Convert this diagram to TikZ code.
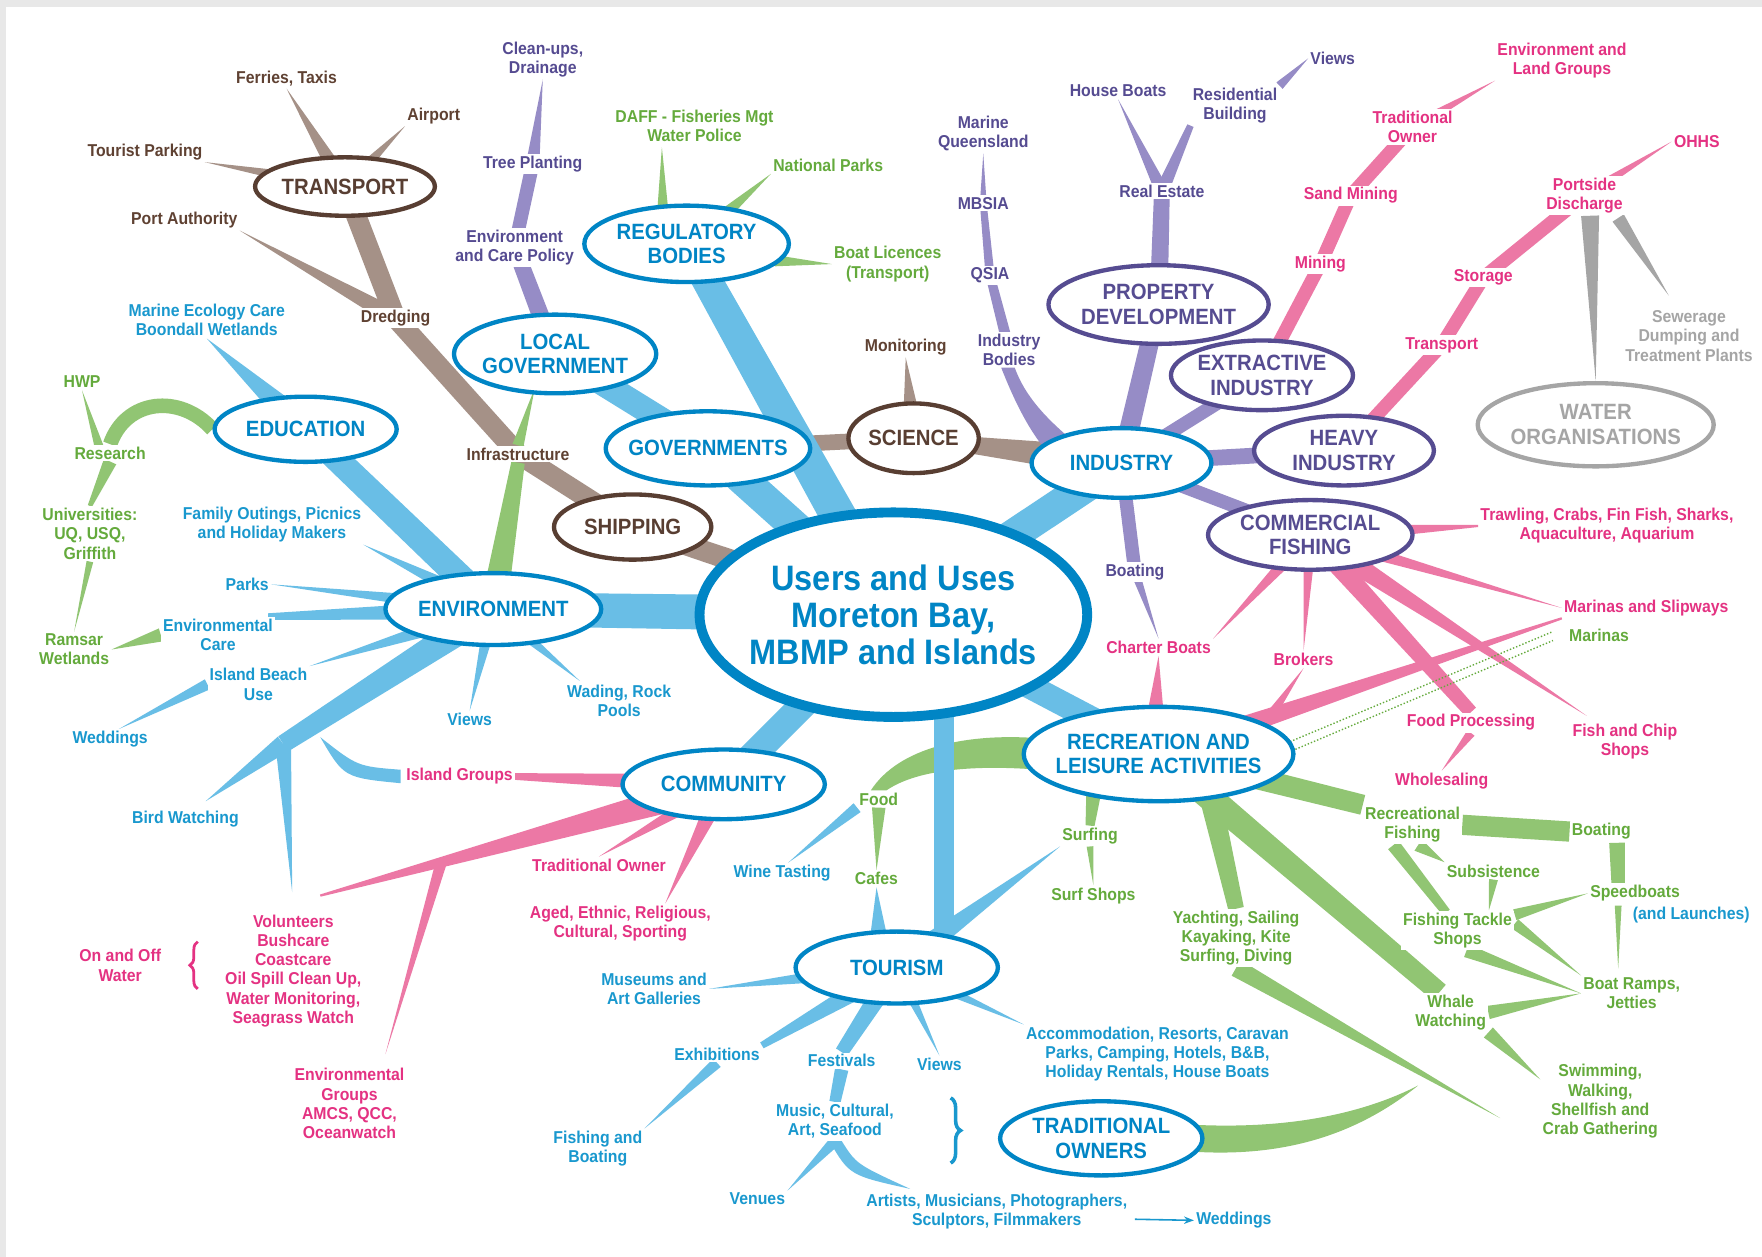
\documentclass[tikz,border=0pt]{standalone}
\usepackage{fontspec}
\setmainfont{Liberation Sans}[FakeStretch=0.92]
\usetikzlibrary{positioning,arrows.meta,calc,backgrounds,shapes.geometric,decorations.pathreplacing}
\definecolor{mbBlue}{RGB}{0,133,197}
\definecolor{mbCyan}{RGB}{25,152,206}
\definecolor{mbSky}{RGB}{105,190,230}
\definecolor{mbBrown}{RGB}{88,62,50}
\definecolor{mbUmber}{RGB}{95,65,50}
\definecolor{mbTaupe}{RGB}{165,145,135}
\definecolor{mbPurple}{RGB}{86,76,145}
\definecolor{mbPlum}{RGB}{85,75,145}
\definecolor{mbLilac}{RGB}{150,140,198}
\definecolor{mbPink}{RGB}{236,120,165}
\definecolor{mbRose}{RGB}{228,50,130}
\definecolor{mbGreen}{RGB}{145,197,115}
\definecolor{mbLeaf}{RGB}{100,170,60}
\definecolor{mbGray}{RGB}{165,165,165}
\definecolor{mbFrame}{RGB}{232,232,232}
\newcommand{\lblfont}{\bfseries\fontsize{8.7}{9.7}\selectfont}
\newcommand{\hubfont}{\bfseries\fontsize{11.2}{12.5}\selectfont}
\newcommand{\corefont}{\bfseries\fontsize{17.9}{18.8}\selectfont}
% tapered branch: from, to, half width at start, half width at end (px)
\newcommand{\twig}[5][mbSky]{\fill[#1] ($(#2)!#4*0.02cm!90:(#3)$) -- ($(#3)!#5*0.02cm!-90:(#2)$) -- ($(#3)!#5*0.02cm!90:(#2)$) -- ($(#2)!#4*0.02cm!-90:(#3)$) -- cycle;}
\begin{document}
\begin{tikzpicture}[x=0.02cm, y=-0.02cm,
  hub/.style n args={3}{ellipse, draw=#1, text=#1, line width=2.2pt, fill=white, font=\hubfont, align=center, inner xsep=-4cm, inner ysep=-4cm, minimum width=#2*0.02cm, minimum height=#3*0.02cm},
  lbl/.style={font=\lblfont, align=center, text=#1, fill=white, inner sep=1pt}]
  \begin{pgfonlayer}{background}
    \fill[mbFrame] (0,0) rectangle (1568,1118.6);
    \fill[white] (5,6) rectangle (1568,1118.6);
  \end{pgfonlayer}

  % Hubs
  \node[hub={mbBrown}{160}{52}] (tra) at (307,166) {TRANSPORT};
  \node[hub={mbBlue}{182}{68}] (reg) at (611,217) {REGULATORY\\BODIES};
  \node[hub={mbBlue}{180}{70}] (loc) at (494,315) {LOCAL\\GOVERNMENT};
  \node[hub={mbBlue}{162}{58}] (edu) at (272,382) {EDUCATION};
  \node[hub={mbBlue}{182}{66}] (gov) at (630,399) {GOVERNMENTS};
  \node[hub={mbBrown}{116}{62}] (sci) at (813,390) {SCIENCE};
  \node[hub={mbBrown}{140}{58}] (shp) at (563,469) {SHIPPING};
  \node[hub={mbBlue}{192}{64}] (env) at (439,542) {ENVIRONMENT};
  \node[hub={mbBlue}{345}{182}, line width=5pt, font=\corefont] (core) at (795,547) {Users and Uses\\Moreton Bay,\\MBMP and Islands};
  \node[hub={mbPurple}{196}{70}] (pro) at (1031,271) {PROPERTY\\DEVELOPMENT};
  \node[hub={mbPurple}{162}{62}] (ext) at (1123,334) {EXTRACTIVE\\INDUSTRY};
  \node[hub={mbBlue}{160}{62}] (ind) at (998,412) {INDUSTRY};
  \node[hub={mbPurple}{160}{62}] (hvy) at (1196,401) {HEAVY\\INDUSTRY};
  \node[hub={mbGray}{210}{74}] (wat) at (1420,378) {WATER\\ORGANISATIONS};
  \node[hub={mbPurple}{182}{62}] (com) at (1166,476) {COMMERCIAL\\FISHING};
  \node[hub={mbBlue}{240}{84}] (rec) at (1031,671) {RECREATION AND\\LEISURE ACTIVITIES};
  \node[hub={mbBlue}{180}{62}] (cmm) at (644,698) {COMMUNITY};
  \node[hub={mbBlue}{180}{64}] (tou) at (798,861) {TOURISM};
  \node[hub={mbBlue}{180}{66}] (own) at (980,1013) {TRADITIONAL\\OWNERS};

  % Transport and science labels
  \node[lbl=mbUmber] (ferry) at (255,70) {Ferries, Taxis};
  \node[lbl=mbUmber] (airp) at (386,103) {Airport};
  \node[lbl=mbUmber] (tpark) at (129,135) {Tourist Parking};
  \node[lbl=mbUmber] (port) at (164,196) {Port Authority};
  \node[lbl=mbUmber] (dredge) at (352,283) {Dredging};
  \node[lbl=mbUmber] (infra) at (461,404) {Infrastructure};
  \node[lbl=mbUmber] (monit) at (806,309) {Monitoring};

  % Purple labels
  \node[lbl=mbPlum] (clean) at (483,53) {Clean-ups,\\Drainage};
  \node[lbl=mbPlum] (tree) at (474,146) {Tree Planting};
  \node[lbl=mbPlum] (ecp) at (458,220) {Environment\\and Care Policy};
  \node[lbl=mbPlum] (mq) at (875,119) {Marine\\Queensland};
  \node[lbl=mbPlum] (mbsia) at (875,181) {MBSIA};
  \node[lbl=mbPlum] (qsia) at (881,245) {QSIA};
  \node[lbl=mbPlum] (ibod) at (898,311) {Industry\\Bodies};
  \node[lbl=mbPlum] (hboat) at (995,81) {House Boats};
  \node[lbl=mbPlum] (resi) at (1099,94) {Residential\\Building};
  \node[lbl=mbPlum] (pviews) at (1186,52) {Views};
  \node[lbl=mbPlum] (reale) at (1034,170) {Real Estate};
  \node[lbl=mbPlum] (iboat) at (1010,509) {Boating};

  % Green labels
  \node[lbl=mbLeaf] (daff) at (618,112) {DAFF - Fisheries Mgt\\Water Police};
  \node[lbl=mbLeaf] (npark) at (737,147) {National Parks};
  \node[lbl=mbLeaf] (blic) at (790,235) {Boat Licences\\(Transport)};
  \node[lbl=mbLeaf] (hwp) at (73,340) {HWP};
  \node[lbl=mbLeaf] (resr) at (98,403) {Research};
  \node[lbl=mbLeaf] (uni) at (80,475) {Universities:\\UQ, USQ,\\Griffith};
  \node[lbl=mbLeaf] (ramsar) at (66,578) {Ramsar\\Wetlands};
  \node[lbl=mbLeaf] (marinas) at (1423,565) {Marinas};
  \node[lbl=mbLeaf] (food) at (782,711) {Food};
  \node[lbl=mbLeaf] (cafes) at (780,782) {Cafes};
  \node[lbl=mbLeaf] (surf) at (970,744) {Surfing};
  \node[lbl=mbLeaf] (surfsh) at (973,797) {Surf Shops};
  \node[lbl=mbLeaf] (yacht) at (1100,835) {Yachting, Sailing\\Kayaking, Kite\\Surfing, Diving};
  \node[lbl=mbLeaf] (recf) at (1257,734) {Recreational\\Fishing};
  \node[lbl=mbLeaf] (rboat) at (1425,740) {Boating};
  \node[lbl=mbLeaf] (subs) at (1329,775) {Subsistence};
  \node[lbl=mbLeaf] (speed) at (1455,795) {Speedboats};
  \node[lbl=mbLeaf] (tackle) at (1297,828) {Fishing Tackle\\Shops};
  \node[lbl=mbLeaf] (ramps) at (1452,884) {Boat Ramps,\\Jetties};
  \node[lbl=mbLeaf] (whale) at (1291,901) {Whale\\Watching};
  \node[lbl=mbLeaf] (swim) at (1424,980) {Swimming,\\Walking,\\Shellfish and\\Crab Gathering};

  % Blue labels
  \node[lbl=mbCyan] (mec) at (184,285) {Marine Ecology Care\\Boondall Wetlands};
  \node[lbl=mbCyan] (fam) at (242,467) {Family Outings, Picnics\\and Holiday Makers};
  \node[lbl=mbCyan] (parks) at (220,520) {Parks};
  \node[lbl=mbCyan] (ecare) at (194,565) {Environmental\\Care};
  \node[lbl=mbCyan] (ibu) at (230,609) {Island Beach\\Use};
  \node[lbl=mbCyan] (wedd) at (98,658) {Weddings};
  \node[lbl=mbCyan] (eviews) at (418,640) {Views};
  \node[lbl=mbCyan] (wade) at (551,624) {Wading, Rock\\Pools};
  \node[lbl=mbCyan] (bird) at (165,729) {Bird Watching};
  \node[lbl=mbCyan] (wine) at (696,777) {Wine Tasting};
  \node[lbl=mbCyan] (muse) at (582,880) {Museums and\\Art Galleries};
  \node[lbl=mbCyan] (exhib) at (638,938) {Exhibitions};
  \node[lbl=mbCyan] (fest) at (749,944) {Festivals};
  \node[lbl=mbCyan] (tviews) at (836,947) {Views};
  \node[lbl=mbCyan] (music) at (743,998) {Music, Cultural,\\Art, Seafood};
  \node[lbl=mbCyan] (fishb) at (532,1022) {Fishing and\\Boating};
  \node[lbl=mbCyan] (venue) at (674,1067) {Venues};
  \node[lbl=mbCyan] (artist) at (887,1078) {Artists, Musicians, Photographers,\\Sculptors, Filmmakers};
  \node[lbl=mbCyan] (twedd) at (1098,1086) {Weddings};
  \node[lbl=mbCyan] (accom) at (1030,938) {Accommodation, Resorts, Caravan\\Parks, Camping, Hotels, B\&B,\\Holiday Rentals, House Boats};
  \node[lbl=mbCyan] (launch) at (1505,814) {(and Launches)};

  % Pink labels
  \node[lbl=mbRose] (elg) at (1390,54) {Environment and\\Land Groups};
  \node[lbl=mbRose] (tro) at (1257,113) {Traditional\\Owner};
  \node[lbl=mbRose] (sand) at (1202,174) {Sand Mining};
  \node[lbl=mbRose] (mining) at (1175,235) {Mining};
  \node[lbl=mbRose] (ohhs) at (1510,126) {OHHS};
  \node[lbl=mbRose] (pdis) at (1410,174) {Portside\\Discharge};
  \node[lbl=mbRose] (stor) at (1320,247) {Storage};
  \node[lbl=mbRose] (trans) at (1283,307) {Transport};
  \node[lbl=mbRose] (trawl) at (1430,468) {Trawling, Crabs, Fin Fish, Sharks,\\Aquaculture, Aquarium};
  \node[lbl=mbRose] (mslip) at (1465,541) {Marinas and Slipways};
  \node[lbl=mbRose] (charter) at (1031,576) {Charter Boats};
  \node[lbl=mbRose] (brok) at (1160,587) {Brokers};
  \node[lbl=mbRose] (fproc) at (1309,643) {Food Processing};
  \node[lbl=mbRose] (fchip) at (1446,660) {Fish and Chip\\Shops};
  \node[lbl=mbRose] (whole) at (1283,695) {Wholesaling};
  \node[lbl=mbRose] (igrp) at (409,691) {Island Groups};
  \node[lbl=mbRose] (ctro) at (533,770) {Traditional Owner};
  \node[lbl=mbRose] (aged) at (552,822) {Aged, Ethnic, Religious,\\Cultural, Sporting};
  \node[lbl=mbRose] (volun) at (261,864) {Volunteers\\Bushcare\\Coastcare\\Oil Spill Clean Up,\\Water Monitoring,\\Seagrass Watch};
  \node[lbl=mbRose] (onoff) at (107,859) {On and Off\\Water};
  \node[lbl=mbRose] (egrp) at (311,982) {Environmental\\Groups\\AMCS, QCC,\\Oceanwatch};
  \node[lbl=mbGray] (sewer) at (1503,299) {Sewerage\\Dumping and\\Treatment Plants};

  % Braces and arrow
  \draw[mbRose, line width=1.4pt, decorate, decoration={brace, amplitude=4pt}] (176,880) -- (176,838);
  \draw[mbCyan, line width=1.8pt, decorate, decoration={brace, amplitude=5pt}] (846,977) -- (846,1035);
  \coordinate (awst) at (1010,1085);
  \draw[-{Stealth[length=5pt]}, mbCyan, line width=0.8pt] (awst) -- (twedd.west);

  % Free ends and forks
  \coordinate (vtip) at (285,797);
  \coordinate (btvt) at (260,794);
  \coordinate (bfork) at (252,662);
  \coordinate (btip) at (183,713);
  \coordinate (etip) at (343,938);
  \coordinate (efork) at ($(cmm)!0.7!(vtip)$);
  \coordinate (agtip) at (592,804);
  \coordinate (igtip) at (285,656);
  \coordinate (wdtip) at (516,606);
  \coordinate (tvtop) at (840,600);
  \coordinate (tvbot) at (840,845);
  \coordinate (cfbot) at (782,836);
  \coordinate (artip) at (810,1058);
  \coordinate (fchtip) at (1412,637);
  \coordinate (ytip) at (1335,995);
  \coordinate (otip) at (1262,966);
  \coordinate (rcn) at (1028,640);
  \coordinate (rbk) at (1120,652);
  \coordinate (recs) at (975,690);
  \coordinate (recy) at (1075,700);
  \coordinate (rbs) at (1439,750);
  \coordinate (spn) at (1440,786);
  \coordinate (sps) at (1440,806);
  \coordinate (rmn) at (1440,862);
  \coordinate (rfs) at (1262,752);
  \coordinate (rfw) at (1240,752);
  \coordinate (tkn) at (1287,812);
  \coordinate (sbt) at (1325,810);
  \coordinate (tke1) at (1348,814);
  \coordinate (tke2) at (1348,822);
  \coordinate (tks) at (1305,846);
  \coordinate (pdg) at (1415,192);
  \coordinate (pds) at (1440,194);
  \coordinate (swn) at (1485,263);
  \coordinate (rgd) at (590,200);
  \coordinate (dfs) at (589,131);
  \coordinate (rgn) at (640,195);
  \coordinate (rgb) at (690,232);
  \coordinate (lgs) at (476,345);
  \coordinate (resn) at (88,397);
  \coordinate (ibA) at (958,395);
  \coordinate (ibB) at (935,405);
  \coordinate (dtA) at (1148,660);
  \coordinate (dtB) at (1382,562);
  \coordinate (dtC) at (1150,668);
  \coordinate (dtD) at (1382,570);

  \begin{pgfonlayer}{background}
    % Transport and shipping
    \twig[mbTaupe]{tra}{ferry.south}{8}{0}
    \twig[mbTaupe]{tra}{airp.south west}{7}{0}
    \twig[mbTaupe]{tra}{tpark.south east}{8}{0}
    \twig[mbTaupe]{port.south east}{dredge}{0}{8}
    \twig[mbTaupe]{tra}{dredge}{9}{9}
    \twig[mbTaupe]{dredge}{infra}{9}{9}
    \twig[mbTaupe]{infra}{shp}{9}{9}
    \twig[mbTaupe]{shp}{core}{9}{10}
    \twig[mbTaupe]{gov}{sci}{7}{7}
    \twig[mbTaupe]{sci}{ind}{5}{14}
    \twig[mbTaupe]{sci}{monit.south}{10}{0}

    % Local government and industry
    \twig[mbLilac]{loc}{ecp}{8}{7}
    \twig[mbLilac]{ecp}{tree}{6}{6}
    \twig[mbLilac]{tree}{clean.south}{6}{0}
    \fill[mbLilac] (ibA) .. controls (930,372) and (912,352) .. ($(ibod.south)+(5,0)$) -- ($(ibod.south)+(-7,0)$) .. controls (903,358) and (918,388) .. (ibB) -- cycle;
    \twig[mbLilac]{ibod}{qsia}{5}{4}
    \twig[mbLilac]{qsia}{mbsia}{4}{3}
    \twig[mbLilac]{mbsia}{mq.south}{3}{0}
    \twig[mbLilac]{ind}{pro}{9}{8}
    \twig[mbLilac]{pro}{reale}{8}{7}
    \twig[mbLilac]{reale}{hboat.south}{6}{0}
    \twig[mbLilac]{reale}{resi.south west}{6}{3}
    \twig[mbLilac]{resi.north east}{pviews.west}{4}{0}
    \twig[mbLilac]{ind}{ext}{6}{6}
    \twig[mbLilac]{ind}{hvy}{7}{7}
    \twig[mbLilac]{ind}{com}{6}{6}
    \twig[mbLilac]{ind}{iboat}{6}{6}
    \twig[mbLilac]{iboat}{charter.north}{4}{0}

    % Mining, heavy industry, water
    \twig[mbPink]{ext}{mining}{6}{6}
    \twig[mbPink]{mining}{sand}{6}{6}
    \twig[mbPink]{sand}{tro}{6}{6}
    \twig[mbPink]{tro}{elg.south west}{5}{0}
    \twig[mbPink]{hvy}{trans}{6}{6}
    \twig[mbPink]{trans}{stor}{6}{6}
    \twig[mbPink]{stor}{pdis}{6}{6}
    \twig[mbPink]{pdis}{ohhs.west}{5}{0}
    \twig[mbGray]{pdg}{wat.north}{8}{0}
    \twig[mbGray]{pds}{swn}{6}{0}

    % Commercial fishing
    \twig[mbPink]{com}{trawl.west}{9}{1}
    \twig[mbPink]{com}{mslip.west}{7}{0}
    \twig[mbPink]{com}{fchtip}{10}{0}
    \twig[mbPink]{com}{fproc.north}{9}{6}
    \twig[mbPink]{fproc.south}{whole.north}{4}{0}
    \twig[mbPink]{com}{brok.north}{6}{0}
    \twig[mbPink]{com}{charter.north east}{7}{0}
    \twig[mbPink]{rcn}{charter.south}{8}{0}
    \twig[mbPink]{rbk}{brok.south}{6}{0}
    \twig[mbPink]{rec}{mslip.south west}{10}{1}
    \draw[mbLeaf, densely dotted, line width=0.7pt] (dtA) -- (dtB);
    \draw[mbLeaf, densely dotted, line width=0.7pt] (dtC) -- (dtD);

    % Community
    \twig[mbPink]{cmm}{igrp.east}{9}{3}
    \twig[mbPink]{cmm}{vtip}{13}{1}
    \twig[mbPink]{efork}{etip}{5}{0}
    \twig[mbPink]{cmm}{ctro.north}{8}{0}
    \twig[mbPink]{cmm}{agtip}{9}{0}

    % Governments, education, environment
    \twig[mbSky]{loc}{gov}{11}{11}
    \twig[mbSky]{reg}{core}{13}{17}
    \twig[mbSky]{gov}{core}{14}{14}
    \twig[mbSky]{edu}{env}{11}{12}
    \twig[mbSky]{mec.south}{edu}{0}{13}
    \twig[mbSky]{env}{core}{15}{16}
    \twig[mbSky]{env}{fam.south east}{9}{0}
    \twig[mbSky]{env}{parks.east}{8}{0}
    \twig[mbSky]{env}{ecare.20}{9}{3}
    \twig[mbSky]{env}{ibu.north east}{9}{0}
    \twig[mbSky]{env}{bfork}{13}{8}
    \twig[mbSky]{bfork}{btip}{8}{0}
    \twig[mbSky]{bfork}{btvt}{7}{0}
    \twig[mbSky]{ibu.west}{wedd.50}{5}{0}
    \fill[mbSky] ($(igrp.west)+(-3,-6)$) .. controls (318,682) .. (igtip) .. controls (306,692) .. ($(igrp.west)+(-3,6)$) -- cycle;
    \twig[mbSky]{env}{eviews.north}{7}{0}
    \twig[mbSky]{env}{wdtip}{7}{0}
    \twig[mbSky]{core}{cmm}{12}{12}
    \twig[mbSky]{core}{rec}{11}{11}
    \twig[mbSky]{core}{ind}{14}{14}

    % Green regulatory and education
    \twig[mbGreen]{rgd}{dfs}{6}{0}
    \twig[mbGreen]{rgn}{npark.south west}{6}{0}
    \twig[mbGreen]{rgb}{blic.west}{5}{0}
    \twig[mbGreen]{lgs}{infra.north}{0}{5}
    \twig[mbGreen]{infra.south}{env}{6}{12}
    \draw[mbGreen, line width=0.26cm] (edu.west) .. controls (160,350) and (112,355) .. (resr.north);
    \twig[mbGreen]{resn}{hwp.south}{4}{0}
    \twig[mbGreen]{resr.south}{uni.north}{6}{2}
    \twig[mbGreen]{uni.south}{ramsar.north}{3}{0}
    \twig[mbGreen]{ecare.west}{ramsar.east}{6}{0}

    % Recreation
    \fill[mbGreen] (925,657) .. controls (860,652) and (800,665) .. ($(food.north)+(-7,0)$) -- ($(food.north)+(7,0)$) .. controls (814,686) and (862,680) .. (925,685) -- cycle;
    \twig[mbGreen]{food.south}{cafes.north}{6}{0}
    \twig[mbGreen]{recs}{surf.north}{8}{4}
    \twig[mbGreen]{surf.south}{surfsh.north}{3}{0}
    \twig[mbGreen]{recy}{yacht.north}{10}{7}
    \twig[mbGreen]{yacht.south}{ytip}{8}{0}
    \twig[mbGreen]{rec}{whale.120}{12}{9}
    \twig[mbGreen]{whale.south east}{swim.160}{6}{0}
    \twig[mbGreen]{rec}{recf.north west}{10}{9}
    \twig[mbGreen]{recf.east}{rboat.west}{9}{9}
    \twig[mbGreen]{rbs}{spn}{7}{6}
    \twig[mbGreen]{sps}{rmn}{3}{0}
    \twig[mbGreen]{rfs}{subs.north west}{6}{0}
    \twig[mbGreen]{rfw}{tkn}{6}{4}
    \twig[mbGreen]{subs.south}{sbt}{4}{0}
    \twig[mbGreen]{speed.west}{tke1}{0}{5}
    \twig[mbGreen]{tke2}{ramps.north west}{5}{0}
    \twig[mbGreen]{tks}{ramps.west}{6}{0}
    \twig[mbGreen]{ramps.west}{whale.east}{0}{6}
    \fill[mbGreen] ($(own.east)+(-8,-12)$) .. controls (1150,1005) and (1215,990) .. (otip) .. controls (1212,1006) and (1150,1030) .. ($(own.east)+(-8,12)$) -- cycle;

    % Tourism
    \twig[mbSky]{tvtop}{tvbot}{9}{9}
    \twig[mbSky]{food.south west}{wine.60}{5}{0}
    \twig[mbSky]{surf.south west}{tou}{0}{11}
    \twig[mbSky]{cafes.south}{cfbot}{0}{8}
    \twig[mbSky]{tou}{muse.east}{9}{0}
    \twig[mbSky]{tou}{exhib.north east}{10}{3}
    \twig[mbSky]{exhib.south}{fishb.north east}{5}{0}
    \twig[mbSky]{tou}{fest.north}{9}{6}
    \twig[mbSky]{fest.south}{music.north}{6}{5}
    \twig[mbSky]{music.south}{venue.north east}{5}{0}
    \fill[mbSky] ($(music.south)+(6,0)$) .. controls (762,1036) .. (artip) .. controls (756,1046) .. ($(music.south)+(-5,0)$) -- cycle;
    \twig[mbSky]{tou}{tviews.north}{6}{0}
    \twig[mbSky]{tou}{accom.north west}{7}{0}
  \end{pgfonlayer}
\end{tikzpicture}
\end{document}
